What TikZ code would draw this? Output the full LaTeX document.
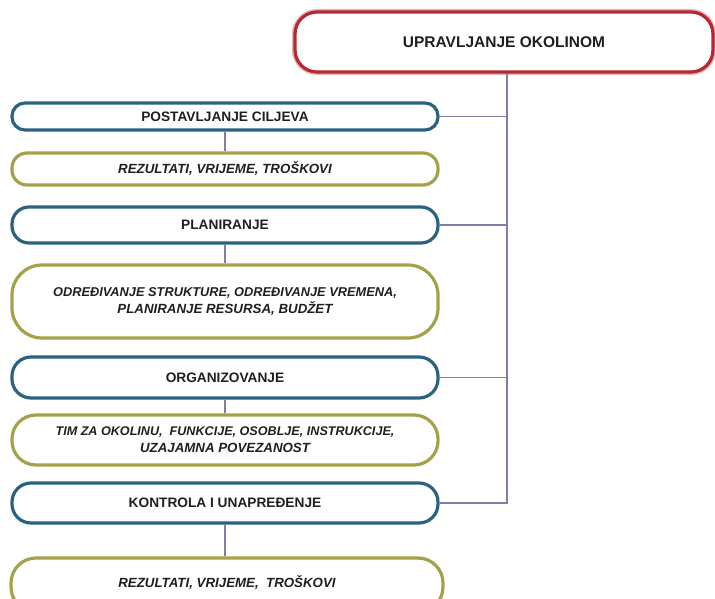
\documentclass[tikz,border=0pt]{standalone}
\usepackage{fontspec}
\setmainfont{Liberation Sans}
\begin{document}
\begin{tikzpicture}[x=1pt,y=-1pt,
  txt/.style={text=black!88},
  box/.style={draw, rectangle, line width=3.2pt, fill=white, txt, align=center, inner sep=0pt},
  bluebox/.style={box, draw=boxblue, minimum width=426pt, font=\fontsize{13.7}{16}\selectfont\bfseries},
  olivebox/.style={box, draw=boxolive, minimum width=426pt, font=\fontsize{13.3}{17}\selectfont\bfseries\itshape},
  redbox/.style={box, draw=boxred, font=\fontsize{15.5}{18}\selectfont\bfseries,
    preaction={draw=boxred!35, line width=6pt}},
  conn/.style={draw=connc, line width=1.4pt}
]
\definecolor{boxblue}{HTML}{2C6281}
\definecolor{boxolive}{HTML}{A3A24A}
\definecolor{boxred}{HTML}{B42A30}
\definecolor{connc}{HTML}{8080A6}
\useasboundingbox (0,0) rectangle (715,599);
\clip (0,0) rectangle (715,599);
\fill[white] (0,0) rectangle (715,599);

\coordinate (sp) at (507,0);

\node[redbox, minimum width=418pt, minimum height=60pt, rounded corners=22pt] (top) at (504,42) {UPRAVLJANJE OKOLINOM};

\node[bluebox, minimum height=27pt, rounded corners=13pt] (b1) at (225,116.5) {POSTAVLJANJE CILJEVA};
\node[olivebox, minimum height=32pt, rounded corners=15pt] (o1) at (225,169) {REZULTATI, VRIJEME, TROŠKOVI};
\node[bluebox, minimum height=36pt, rounded corners=17pt] (b2) at (225,225) {PLANIRANJE};
\node[olivebox, minimum height=73pt, rounded corners=30pt] (o2) at (225,301.5) {\fontsize{12.8}{16}\selectfont ODREĐIVANJE STRUKTURE, ODREĐIVANJE VREMENA,\\ PLANIRANJE RESURSA, BUDŽET};
\node[bluebox, minimum height=41pt, rounded corners=19pt] (b3) at (225,377.5) {ORGANIZOVANJE};
\node[olivebox, minimum height=50pt, rounded corners=24pt] (o3) at (225,440) {\fontsize{12.6}{19}\selectfont TIM ZA OKOLINU,\ \ FUNKCIJE, OSOBLJE, INSTRUKCIJE,\\ UZAJAMNA POVEZANOST};
\node[bluebox, minimum height=40pt, rounded corners=19pt] (b4) at (225,503) {KONTROLA I UNAPREĐENJE};
\node[olivebox, minimum width=432pt, minimum height=54pt, rounded corners=25pt] (o4) at (227,585) {\raisebox{7pt}{REZULTATI, VRIJEME,\ \ TROŠKOVI}};

% spine and branches
\draw[conn] (top.south -| sp) -- (sp |- b4.east) -- (b4.east);
\draw[conn] (b1.east) -- (b1.east -| sp);
\draw[conn] (b2.east) -- (b2.east -| sp);
\draw[conn] (b3.east) -- (b3.east -| sp);

% vertical links
\draw[conn] (b1.south) -- (o1.north);
\draw[conn] (b2.south) -- (o2.north);
\draw[conn] (b3.south) -- (o3.north);
\draw[conn] (b4.south) -- (b4.south |- o4.north);
\end{tikzpicture}
\end{document}
